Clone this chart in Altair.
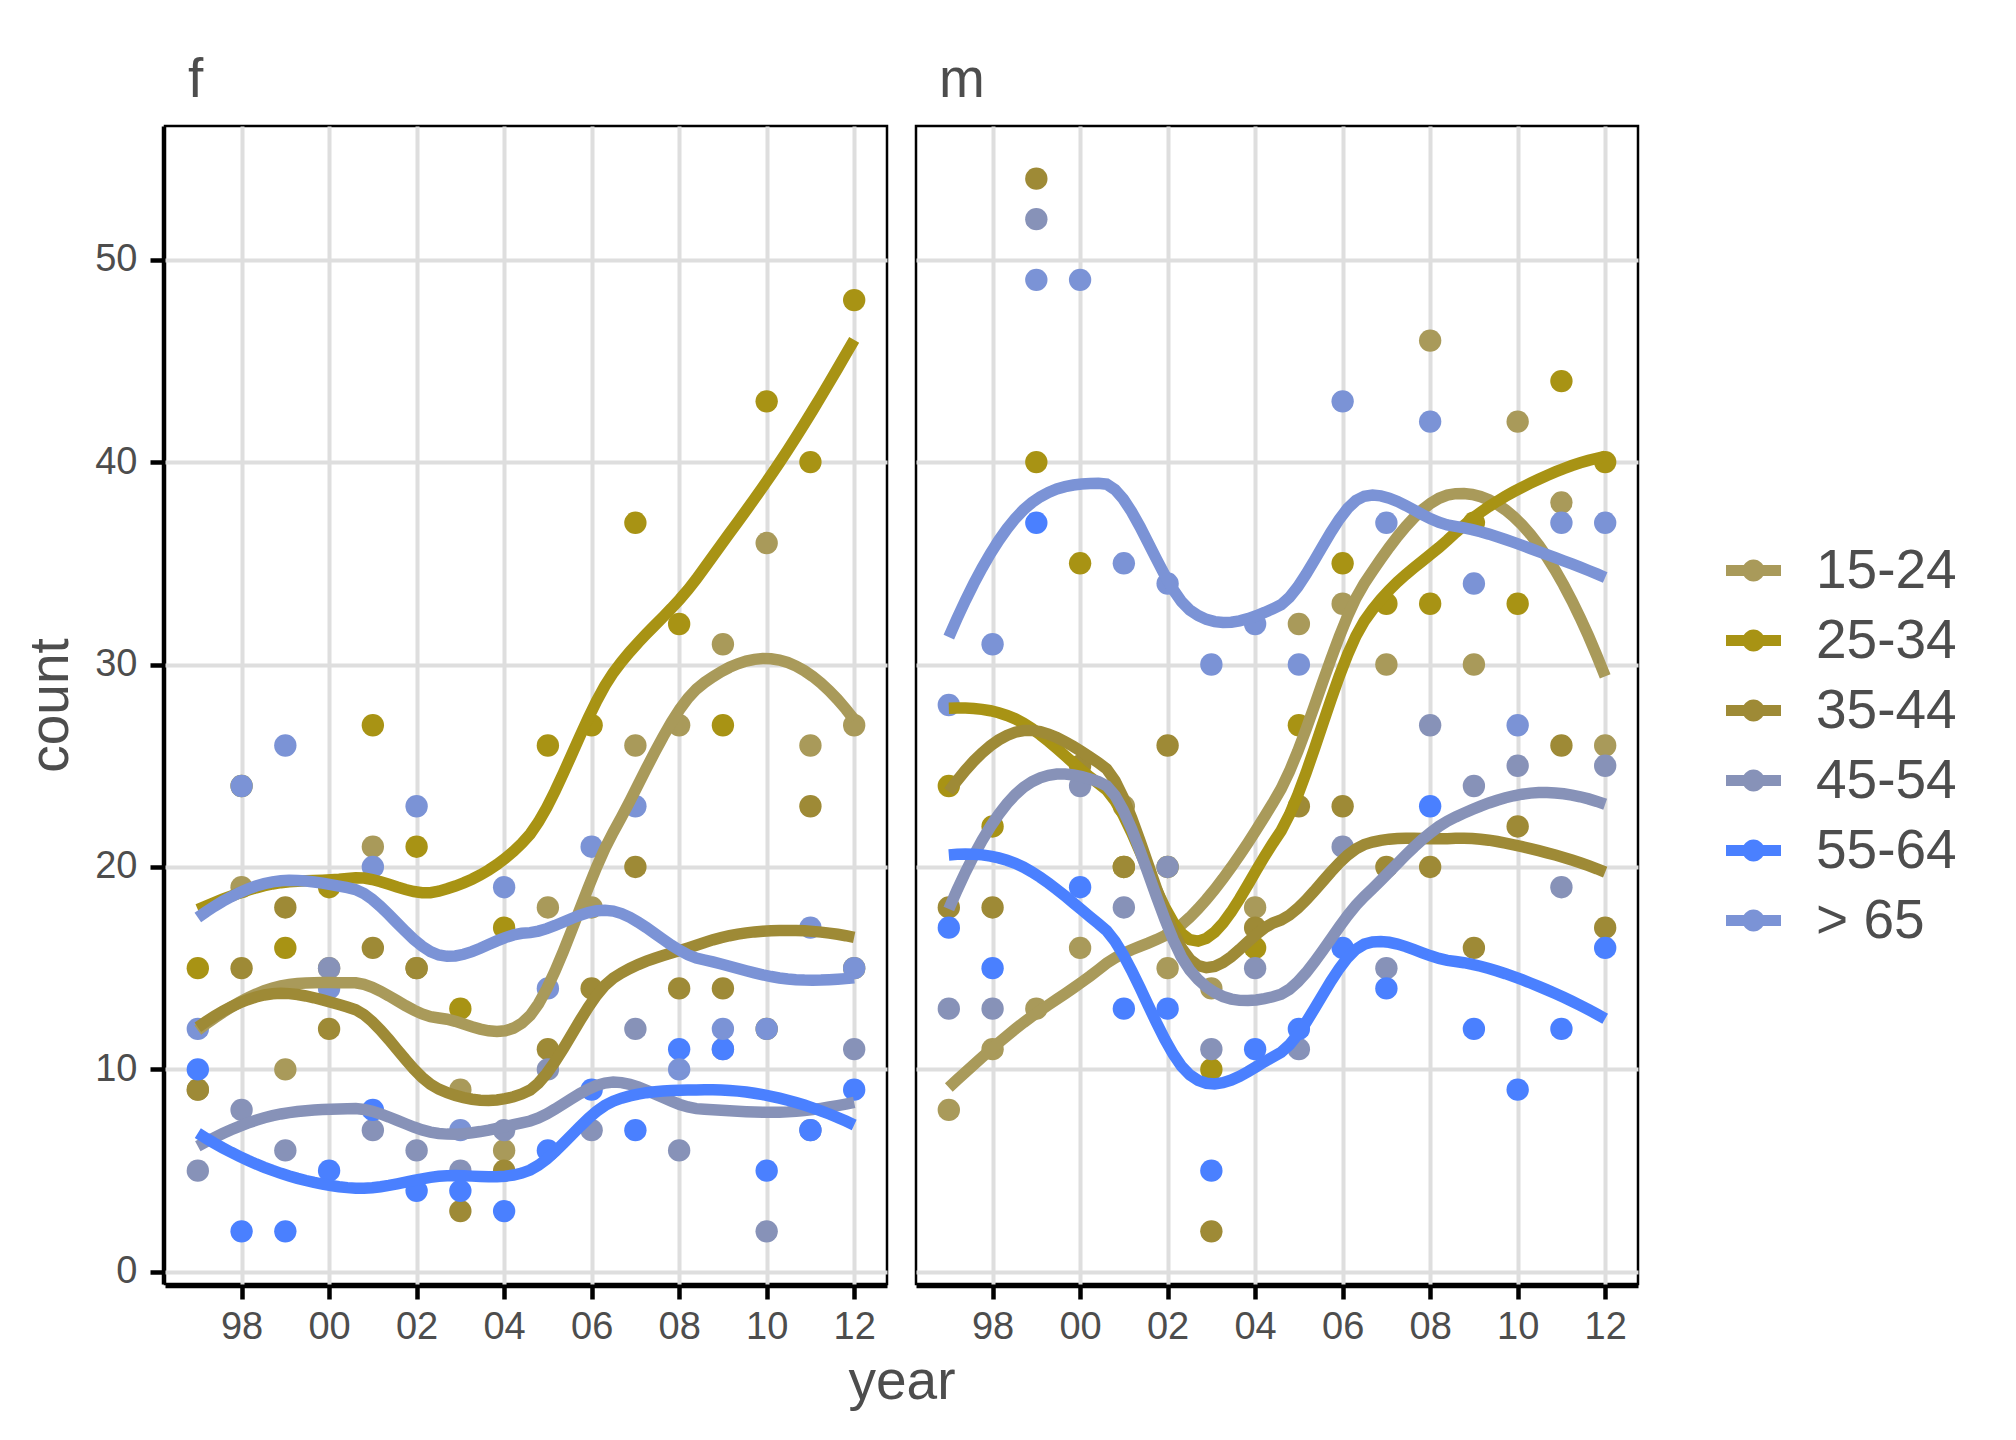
import numpy as np
import pandas as pd
import altair as alt

FONT = "Liberation Sans"
TEXT = "#4D4D4D"

years = list(range(1997, 2013))
tick_years = [1998, 2000, 2002, 2004, 2006, 2008, 2010, 2012]
count_ticks = [0, 10, 20, 30, 40, 50]
sexes = ["f", "m"]
ages = ["15-24", "25-34", "35-44", "45-54", "55-64", "> 65"]
colors = ["#A99A5A", "#A89314", "#9E8A36", "#8792B8", "#4A80FF", "#7B93D6"]

# counts per year (1997..2012), panel f
f_15_24 = [9, 19, 10, 15, 21, 15, 9, 6, 18, 18, 26, 27, 31, 36, 26, 27]
f_25_34 = [15, 24, 16, 19, 27, 21, 13, 17, 26, 27, 37, 32, 27, 43, 40, 48]
f_35_44 = [9, 15, 18, 12, 16, 15, 3, 5, 11, 14, 20, 14, 14, 12, 23, 15]
f_45_54 = [5, 8, 6, 15, 7, 6, 5, 7, 10, 7, 12, 6, 11, 2, 7, 11]
f_55_64 = [10, 2, 2, 5, 8, 4, 4, 3, 6, 9, 7, 11, 11, 5, 7, 9]
f_65 = [12, 24, 26, 14, 20, 23, 7, 19, 14, 21, 23, 10, 12, 12, 17, 15]

# panel m
m_15_24 = [8, 11, 13, 16, 23, 15, 14, 18, 32, 33, 30, 46, 30, 42, 38, 26]
m_25_34 = [24, 22, 40, 35, 20, 20, 10, 16, 27, 35, 33, 33, 37, 33, 44, 40]
m_35_44 = [18, 18, 54, 25, 20, 26, 2, 17, 23, 23, 20, 20, 16, 22, 26, 17]
m_45_54 = [13, 13, 52, 24, 18, 20, 11, 15, 11, 21, 15, 27, 24, 25, 19, 25]
m_55_64 = [17, 15, 37, 19, 13, 13, 5, 11, 12, 16, 14, 23, 12, 9, 12, 16]
m_65 = [28, 31, 49, 49, 35, 34, 30, 32, 30, 43, 37, 42, 34, 27, 37, 37]

series = {
    "f": [f_15_24, f_25_34, f_35_44, f_45_54, f_55_64, f_65],
    "m": [m_15_24, m_25_34, m_35_44, m_45_54, m_55_64, m_65],
}


def local_quadratic(x, y, x0, q):
    """Tricube-weighted local quadratic fit at x0: value and slope."""
    d = np.abs(x - x0)
    h = np.sort(d)[q - 1]
    u = np.clip(d / h, 0, 1)
    w = (1 - u ** 3) ** 3
    X = np.column_stack([np.ones(len(x)), x - x0, (x - x0) ** 2])
    sw = np.sqrt(w)
    beta, *_ = np.linalg.lstsq(X * sw[:, None], y * sw, rcond=None)
    return beta[0], beta[1]


def kd_vertices(xs, fc):
    xs = np.sort(np.asarray(xs, float))
    rng = xs[-1] - xs[0]
    verts = {xs[0] - 0.005 * rng, xs[-1] + 0.005 * rng}

    def split(pts):
        if len(pts) <= fc:
            return
        m = (len(pts) + 1) // 2
        cut = (pts[m - 1] + pts[m]) / 2
        verts.add(cut)
        split(pts[:m])
        split(pts[m:])

    split(list(xs))
    return sorted(verts)


def loess_smooth(x, y, grid, span=0.75, cell=0.2):
    """loess (degree 2) with kd-tree vertices and cubic Hermite interpolation."""
    x = np.asarray(x, float)
    y = np.asarray(y, float)
    n = len(x)
    q = int(np.floor(n * span))
    fc = int(np.floor(n * span * cell))
    verts = kd_vertices(x, fc)
    vals = [local_quadratic(x, y, v, q) for v in verts]
    out = []
    for g in grid:
        i = max(0, min(len(verts) - 2, int(np.searchsorted(verts, g) - 1)))
        v0, v1 = verts[i], verts[i + 1]
        (f0, d0), (f1, d1) = vals[i], vals[i + 1]
        hh = v1 - v0
        t = (g - v0) / hh
        h00 = (1 - t) ** 2 * (1 + 2 * t)
        h01 = t ** 2 * (3 - 2 * t)
        h10 = t * (1 - t) ** 2
        h11 = -t ** 2 * (1 - t)
        out.append(float(h00 * f0 + h01 * f1 + (h10 * d0 + h11 * d1) * hh))
    return out


grid = np.linspace(years[0], years[-1], 80)
rows = []
for sex in sexes:
    for age, vals in zip(ages, series[sex]):
        for yr, v in zip(years, vals):
            rows.append({"sex": sex, "age": age, "year": yr, "count": v, "kind": "obs"})
        for gx, gy in zip(grid, loess_smooth(years, vals, grid)):
            rows.append({"sex": sex, "age": age, "year": float(gx), "count": gy, "kind": "fit"})
df = pd.DataFrame(rows)

LEGEND_PATH = ("M-1,-0.2H1V0.2H-1Z "
               "M0.4,0A0.4,0.4 0 1,1 -0.4,0A0.4,0.4 0 1,1 0.4,0Z")

x_enc = alt.X(
    "year:Q",
    scale=alt.Scale(domain=[1996.25, 2012.75], nice=False, zero=False),
    axis=alt.Axis(values=tick_years, labelExpr="substring(toString(datum.value), 2)",
                  title=None, labelPadding=9),
)
y_enc = alt.Y(
    "count:Q",
    scale=alt.Scale(domain=[-0.6, 56.6], nice=False, zero=False),
    axis=alt.Axis(values=count_ticks, title="count", labelPadding=13, titlePadding=15.5),
)

points = alt.Chart().mark_circle(size=500, opacity=1).encode(
    x=x_enc,
    y=y_enc,
    color=alt.Color(
        "age:N",
        scale=alt.Scale(domain=ages, range=colors),
        title=None,
        legend=alt.Legend(
            orient="none", legendX=1561, legendY=417,
            symbolType=LEGEND_PATH, symbolSize=3025, symbolStrokeWidth=0,
            symbolOpacity=1,
            labelFont=FONT, labelFontSize=55, labelColor=TEXT,
            labelOffset=35, rowPadding=14, padding=0,
        ),
    ),
).transform_filter("datum.kind == 'obs'")

lines = alt.Chart().mark_line(strokeWidth=11.5).encode(
    x=x_enc,
    y=y_enc,
    color=alt.Color("age:N", scale=alt.Scale(domain=ages, range=colors), legend=None),
).transform_filter("datum.kind == 'fit'")

# panel strip label ("f" / "m"), placed above the top-left corner of each panel
strip = alt.Chart().mark_text(
    align="left", baseline="alphabetic", font=FONT, fontSize=55, color=TEXT
).encode(
    text="sex:N",
    x=alt.value(23),
    y=alt.value(-29),
).transform_filter("datum.kind == 'obs' && datum.year == 1997 && datum.age == '15-24'")

layered = alt.layer(points, lines, strip, data=df).properties(width=722, height=1158)

chart = layered.facet(
    column=alt.Column(
        "sex:N",
        title="year",
        header=alt.Header(
            labels=False,
            titleOrient="bottom", titleFont=FONT, titleFontSize=55,
            titleColor=TEXT, titleFontWeight="normal", titlePadding=0,
        ),
    ),
    spacing=25,
).configure_view(
    stroke="black", strokeWidth=2.5
).configure_axis(
    grid=True, gridColor="#DEDEDE", gridWidth=4,
    domainColor="black", domainWidth=3.5,
    tickColor="black", tickWidth=4.5, tickSize=13,
    labelFont=FONT, labelFontSize=38, labelColor=TEXT,
    titleFont=FONT, titleFontSize=55, titleColor=TEXT, titleFontWeight="normal",
).properties(
    padding={"left": 15, "top": 43, "right": 10, "bottom": 10},
    background="white",
)

chart.save("out.html", embed_options={"renderer": "svg", "actions": False})
